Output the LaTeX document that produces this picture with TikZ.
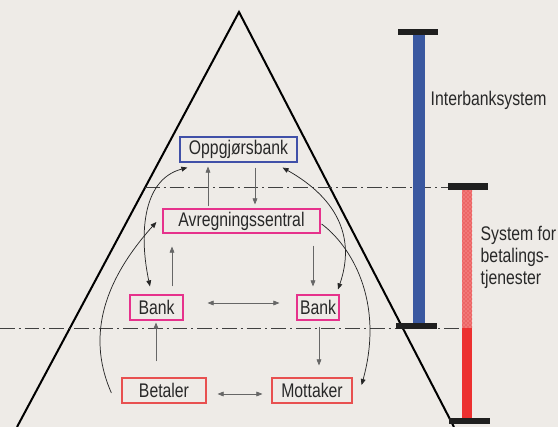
\documentclass[tikz,border=0pt]{standalone}
\usepackage{fontspec}
\setmainfont{Liberation Sans}[FakeStretch=0.8]
\usetikzlibrary{arrows.meta,patterns,calc}
\definecolor{bg}{RGB}{238,235,231}
\definecolor{txt}{RGB}{40,40,40}
\definecolor{bblue}{RGB}{64,80,168}
\definecolor{bmag}{RGB}{230,50,140}
\definecolor{bred}{RGB}{232,80,80}
\definecolor{barblue}{RGB}{58,88,160}
\definecolor{barred}{RGB}{236,48,48}
\definecolor{barpink}{RGB}{242,120,120}
\begin{document}
\begin{tikzpicture}[x=0.75pt,y=-0.75pt,
  lbl/.style={font=\fontsize{14.8pt}{16.5pt}\selectfont, text=txt},
  box/.style={lbl, draw, line width=0.9pt, inner sep=0pt, fill=bg},
  arr/.style={draw=black!60, line width=0.5pt, -{Triangle[length=4.5pt,width=3.6pt]}},
  darr/.style={arr, {Triangle[length=4.5pt,width=3.6pt]}-{Triangle[length=4.5pt,width=3.6pt]}},
  crv/.style={draw=black!85, line width=0.55pt},
  dd/.style={draw=black!75, line width=0.7pt, dash pattern=on 11pt off 3pt on 1.5pt off 3pt},
  barcap/.style={fill=black!88, draw=none}
]
\fill[bg] (0,0) rectangle (558,427);
\useasboundingbox (0,0) rectangle (558,427);
\begin{scope}
\clip (0,0) rectangle (558,427);
% triangle
\draw[line width=1.5pt, line join=miter] (17,427) -- (239,12) -- (454,427);
% dash-dot lines
\draw[dd] (145,187) -- (448,187);
\draw[dd] (0,328) -- (462,328);
% bars
\fill[barblue] (413,35) rectangle (425,325);
\fill[barcap] (398,29) rectangle (438,35);
\fill[barcap] (396,323) rectangle (437,329);
\fill[barpink] (462,190) rectangle (472,328);
\fill[pattern=crosshatch dots, pattern color=barred!90!black] (462,190) rectangle (472,328);
\fill[barred] (462,328) rectangle (472,420);
\fill[barcap] (448,183) rectangle (488,190);
\fill[barcap] (449,418) rectangle (490,424);
\end{scope}
% labels
\node[lbl, anchor=west] (ib) at (426,100) {Interbanksystem};
\node[lbl, anchor=west, align=left] (sb) at (476,257) {System for\\betalings-\\tjenester};
% boxes
\node[box, draw=bblue, minimum width={117*0.75pt}, minimum height={25*0.75pt}] (oppg) at (238.5,149.5) {Oppgjørsbank};
\node[box, draw=bmag, minimum width={157*0.75pt}, minimum height={24*0.75pt}] (avr) at (241.5,221) {Avregningssentral};
\node[box, draw=bmag, minimum width={53*0.75pt}, minimum height={25*0.75pt}] (bankl) at (156.5,307.5) {Bank};
\node[box, draw=bmag, minimum width={42*0.75pt}, minimum height={25*0.75pt}] (bankr) at (318,307.5) {Bank};
\node[box, draw=bred, minimum width={84*0.75pt}, minimum height={25*0.75pt}] (bet) at (164,390.5) {Betaler};
\node[box, draw=bred, minimum width={80*0.75pt}, minimum height={25*0.75pt}] (mot) at (312,390.5) {Mottaker};
% straight arrows
\draw[arr] ([shift={(-33.5,-2)}]avr.north) -- ([shift={(-30.5,4)}]oppg.south);
\draw[arr] ([shift={(16.5,5)}]oppg.south) -- ([shift={(13.5,-4)}]avr.north);
\draw[arr] ([shift={(15.5,-8)}]bankl.north) -- ([shift={(-69.5,13)}]avr.south);
\draw[arr] ([shift={(71.5,12)}]avr.south) -- ([shift={(-5,-8)}]bankr.north);
\draw[darr] ([shift={(24,-4.5)}]bankl.east) -- ([shift={(-17,-4.5)}]bankr.west);
\draw[arr] ([shift={(-8,-16)}]bet.north) -- ([shift={(-0.5,2)}]bankl.south);
\draw[arr] ([shift={(1,6)}]bankr.south) -- ([shift={(7,-12)}]mot.north);
\draw[darr] ([shift={(11,3.5)}]bet.east) -- ([shift={(-9,3.5)}]mot.west);
% curves
\draw[darr, crv] ([shift={(8,5)}]oppg.south west) .. controls (140,180) and (140,240) .. ([shift={(-6.5,-8)}]bankl.north);
\draw[arr, crv] ([shift={(-10,2.5)}]bet.west) .. controls (88,340) and (100,285) .. ([shift={(-6,1)}]avr.west);
\draw[darr, crv] ([shift={(-15,5)}]oppg.south east) .. controls (340,200) and (355,240) .. ([shift={(20,-5)}]bankr.north);
\draw[arr, crv] ([shift={(1,3)}]avr.east) .. controls (350,245) and (385,300) .. ([shift={(9,-5.5)}]mot.east);
\end{tikzpicture}
\end{document}
